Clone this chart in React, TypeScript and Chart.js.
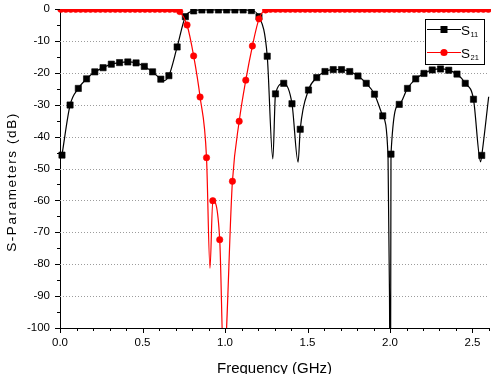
import React, { useEffect, useRef } from "react";
import { Chart, registerables } from "chart.js";

Chart.register(...registerables);

const FONT = "'Liberation Sans', Arial, Helvetica, sans-serif";

const xTickValues = [0, 0.5, 1.0, 1.5, 2.0, 2.5];
const yTickValues = [0, -10, -20, -30, -40, -50, -60, -70, -80, -90, -100];
const xTitle = "Frequency (GHz)";
const yTitle = "S-Parameters (dB)";
const seriesNames = ["S", "S"];
const seriesSubs = ["11", "21"];

// S11 (black squares)
const s11Freq = [0.012, 0.061, 0.111, 0.161, 0.211, 0.261, 0.311, 0.361, 0.411, 0.461, 0.511, 0.561, 0.611, 0.627, 0.660, 0.710, 0.760, 0.810, 0.860, 0.910, 0.960, 1.010, 1.060, 1.110, 1.160, 1.206, 1.256, 1.290, 1.306, 1.356, 1.406, 1.443, 1.456, 1.506, 1.556, 1.606, 1.656, 1.706, 1.756, 1.806, 1.856, 1.906, 1.956, 1.988, 1.997, 2.002, 2.006, 2.056, 2.106, 2.156, 2.206, 2.256, 2.306, 2.356, 2.406, 2.456, 2.506, 2.549, 2.556, 2.598];
const s11Db = [-45.8, -30.1, -24.9, -21.9, -19.7, -18.4, -17.3, -16.8, -16.6, -16.9, -18.0, -19.7, -22.0, -22.5, -20.9, -11.9, -2.4, -0.6, -0.3, -0.3, -0.3, -0.3, -0.3, -0.3, -0.5, -2.4, -14.8, -47.0, -26.6, -23.3, -29.7, -48.0, -37.7, -25.4, -21.5, -19.6, -19.0, -19.0, -19.6, -21.0, -23.3, -26.7, -33.5, -46.0, -90, -150, -45.5, -29.9, -24.9, -21.9, -20.2, -19.1, -18.8, -19.2, -20.4, -23.3, -28.3, -47.9, -45.9, -27.5];
// points on the S11 trace that carry no marker
const s11Bare = [0.627, 1.290, 1.443, 1.988, 1.997, 2.002, 2.549, 2.598];

// S21 (red circles)
const s21Freq = [0.005, 0.035, 0.065, 0.095, 0.125, 0.155, 0.185, 0.215, 0.245, 0.275, 0.305, 0.335, 0.365, 0.395, 0.425, 0.455, 0.485, 0.515, 0.545, 0.575, 0.605, 0.635, 0.665, 0.695, 0.726, 0.770, 0.810, 0.849, 0.888, 0.909, 0.926, 0.968, 0.992, 1.045, 1.086, 1.126, 1.166, 1.206, 1.246, 1.276, 1.306, 1.336, 1.366, 1.396, 1.426, 1.456, 1.486, 1.516, 1.546, 1.576, 1.606, 1.636, 1.666, 1.696, 1.726, 1.756, 1.786, 1.816, 1.846, 1.876, 1.906, 1.936, 1.966, 1.996, 2.026, 2.056, 2.086, 2.116, 2.146, 2.176, 2.206, 2.236, 2.266, 2.296, 2.326, 2.356, 2.386, 2.416, 2.446, 2.476, 2.506, 2.536, 2.566, 2.596];
const s21Db = [-0.1, -0.1, -0.1, -0.1, -0.1, -0.1, -0.1, -0.1, -0.1, -0.1, -0.1, -0.1, -0.1, -0.1, -0.1, -0.1, -0.1, -0.1, -0.1, -0.1, -0.1, -0.1, -0.1, -0.1, -0.8, -5.0, -14.7, -27.6, -46.6, -81.3, -60.1, -72.3, -112, -54.0, -35.2, -22.3, -11.6, -3.1, -0.3, -0.1, -0.1, -0.1, -0.1, -0.1, -0.1, -0.1, -0.1, -0.1, -0.1, -0.1, -0.1, -0.1, -0.1, -0.1, -0.1, -0.1, -0.1, -0.1, -0.1, -0.1, -0.1, -0.1, -0.1, -0.1, -0.1, -0.1, -0.1, -0.1, -0.1, -0.1, -0.1, -0.1, -0.1, -0.1, -0.1, -0.1, -0.1, -0.1, -0.1, -0.1, -0.1, -0.1, -0.1, -0.1];
const s21Bare = [0.909, 0.992];

const decor = {
  id: "decor",
  beforeDatasetsDraw(chart: any) {
    const { ctx, chartArea: a, scales } = chart;
    const y = scales.y;
    ctx.save();
    ctx.strokeStyle = "#9c9c9c";
    ctx.lineWidth = 1;
    ctx.setLineDash([1, 2]);
    yTickValues.forEach((v) => {
      if (v === 0 || v === -100) return;
      const py = Math.round(y.getPixelForValue(v)) + 0.5;
      ctx.beginPath();
      ctx.moveTo(a.left, py);
      ctx.lineTo(a.right, py);
      ctx.stroke();
    });
    ctx.restore();
  },
  afterDraw(chart: any) {
    const { ctx, chartArea: a, scales } = chart;
    const xs = scales.x;
    const ys = scales.y;
    ctx.save();
    ctx.strokeStyle = "#000";
    ctx.lineWidth = 1;
    ctx.setLineDash([]);
    // x ticks (major every 0.5, minor every 0.1)
    for (let i = 0; i <= 26; i++) {
      const px = Math.round(xs.getPixelForValue(i / 10)) + 0.5;
      const len = i % 5 === 0 ? 5 : 3;
      ctx.beginPath();
      ctx.moveTo(px, a.bottom);
      ctx.lineTo(px, a.bottom + len);
      ctx.stroke();
    }
    // y ticks (major every 10, minor every 5)
    for (let i = 0; i <= 20; i++) {
      const py = Math.round(ys.getPixelForValue(-5 * i)) + 0.5;
      const len = i % 2 === 0 ? 5 : 3;
      ctx.beginPath();
      ctx.moveTo(a.left, py);
      ctx.lineTo(a.left - len, py);
      ctx.stroke();
    }

    // axis titles
    ctx.fillStyle = "#000";
    ctx.font = `15px ${FONT}`;
    ctx.textAlign = "center";
    ctx.textBaseline = "alphabetic";
    ctx.fillText(xTitle, (a.left + a.right) / 2, 372.5);

    ctx.save();
    ctx.translate(12.5, 182);
    ctx.rotate(-Math.PI / 2);
    ctx.font = `13.5px ${FONT}`;
    (ctx as any).letterSpacing = "1.6px";
    ctx.textBaseline = "middle";
    ctx.fillText(yTitle, 0, 0);
    ctx.restore();

    // legend
    const L = a.right - 64;
    const T = a.top + 10;
    ctx.fillStyle = "#fff";
    ctx.fillRect(L, T, 60, 45);
    ctx.strokeStyle = "#000";
    ctx.lineWidth = 1;
    ctx.strokeRect(L + 0.5, T + 0.5, 59, 45);
    const rows = [
      { y: T + 10.5, color: "#000", shape: "rect" },
      { y: T + 33.5, color: "#ff0000", shape: "circle" },
    ];
    rows.forEach((r, i) => {
      ctx.strokeStyle = r.color;
      ctx.fillStyle = r.color;
      ctx.lineWidth = 1.2;
      ctx.beginPath();
      ctx.moveTo(L + 2, r.y);
      ctx.lineTo(L + 36, r.y);
      ctx.stroke();
      const cx = L + 19;
      if (r.shape === "rect") {
        ctx.fillRect(cx - 3.5, r.y - 3.5, 7, 7);
      } else {
        ctx.beginPath();
        ctx.arc(cx, r.y, 3.6, 0, Math.PI * 2);
        ctx.fill();
      }
      ctx.fillStyle = "#000";
      ctx.textAlign = "left";
      ctx.textBaseline = "alphabetic";
      ctx.font = `13.5px ${FONT}`;
      ctx.fillText(seriesNames[i], L + 36, r.y + 5);
      ctx.font = `7.5px ${FONT}`;
      ctx.fillText(seriesSubs[i], L + 45.5, r.y + 7.5);
    });
    ctx.restore();
  },
};

export default function App() {
  const ref = useRef<HTMLCanvasElement | null>(null);

  useEffect(() => {
    if (!ref.current) return;
    const s11Data = s11Freq.map((f, i) => ({ x: f, y: s11Db[i] }));
    const s21Data = s21Freq.map((f, i) => ({ x: f, y: s21Db[i] }));
    const chart = new Chart(ref.current, {
      type: "line",
      data: {
        datasets: [
          {
            label: "S11",
            data: s11Data,
            borderColor: "#000",
            backgroundColor: "#000",
            borderWidth: 1.2,
            pointStyle: "rect",
            pointRadius: (c: any) => (s11Bare.includes(s11Freq[c.dataIndex]) ? 0 : 4.4),
            pointBorderWidth: 0.6,
            pointBorderColor: "#000",
            pointBackgroundColor: "#000",
            cubicInterpolationMode: "monotone",
            clip: { left: 6, right: 2, top: 0, bottom: 0 },
            order: 1,
          } as any,
          {
            label: "S21",
            data: s21Data,
            borderColor: "#ff0000",
            backgroundColor: "#ff0000",
            borderWidth: 1.2,
            pointStyle: "circle",
            pointRadius: (c: any) => (s21Bare.includes(s21Freq[c.dataIndex]) ? 0 : 3.2),
            pointBorderWidth: 0.6,
            pointBorderColor: "#ff0000",
            pointBackgroundColor: "#ff0000",
            cubicInterpolationMode: "monotone",
            clip: { left: 6, right: 2, top: 0, bottom: 0 },
            order: 0,
          } as any,
        ],
      },
      options: {
        responsive: false,
        animation: false,
        events: [],
        layout: { padding: { top: 9, right: 3, left: 0, bottom: 0 } },
        plugins: { legend: { display: false }, tooltip: { enabled: false } },
        scales: {
          x: {
            type: "linear",
            min: 0,
            max: 2.6,
            afterFit: (s: any) => {
              s.height = 46;
            },
            grid: { display: false, drawTicks: true, tickLength: 8 },
            border: { display: true, color: "#000", width: 1 },
            ticks: {
              stepSize: 0.5,
              includeBounds: false,
              autoSkip: false,
              maxRotation: 0,
              padding: 0,
              color: "#000",
              font: { family: FONT, size: 11.5 },
              callback: (v: any) => Number(v).toFixed(1),
            },
          },
          y: {
            type: "linear",
            min: -100,
            max: 0,
            afterFit: (s: any) => {
              s.width = 60;
            },
            grid: { display: false, drawTicks: true, tickLength: 10 },
            border: { display: true, color: "#000", width: 1 },
            ticks: {
              stepSize: 10,
              autoSkip: false,
              padding: 0,
              color: "#000",
              font: { family: FONT, size: 11.5 },
            },
          },
        },
      } as any,
      plugins: [decor],
    });
    return () => chart.destroy();
  }, []);

  return (
    <div style={{ position: "fixed", left: 0, top: 0, width: 494, height: 374, background: "#fff" }}>
      <canvas ref={ref} width={494} height={374} style={{ width: 494, height: 374, display: "block" }} />
    </div>
  );
}
